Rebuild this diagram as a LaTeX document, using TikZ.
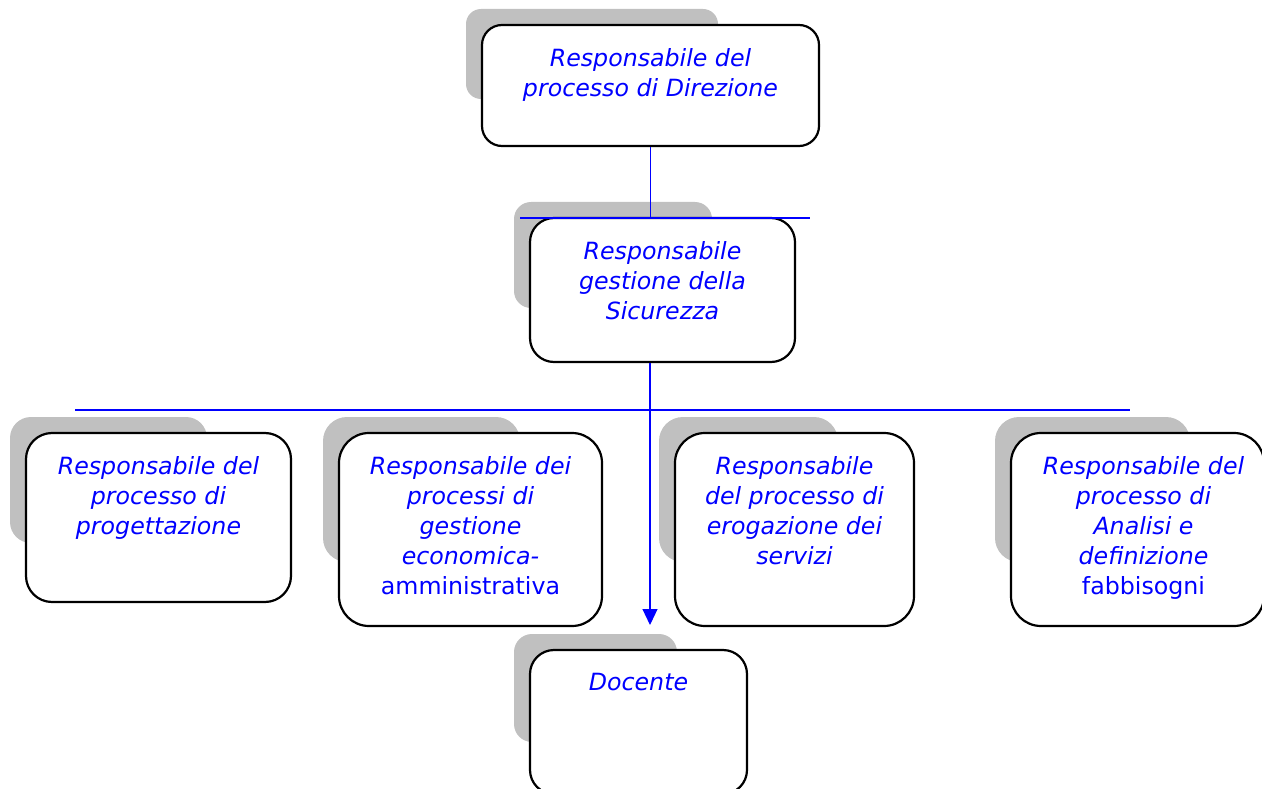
\documentclass[tikz,border=0pt]{standalone}
\usepackage{fontspec}
\setmainfont{DejaVu Sans}[ItalicFont={DejaVu Sans Oblique}]
\usepackage{tikz}
\usetikzlibrary{arrows.meta,positioning}
\definecolor{shadowgray}{RGB}{192,192,192}
\definecolor{linkblue}{RGB}{0,0,255}

\begin{document}
\begin{tikzpicture}[x=1pt,y=-1pt,
    box/.style={draw=black, line width=2.2pt, fill=white, rounded corners=#1, inner sep=0pt},
    box/.default=24pt,
    txt/.style={font=\fontsize{23.7}{30}\selectfont\itshape, text=linkblue, align=center, inner sep=0pt},
    link/.style={draw=linkblue, line width=1.2pt, dash pattern=on 1.5pt off 0.5pt}]
            \clip (0,0) rectangle (1262,789);
            % shadows
            \fill[shadowgray, rounded corners=15pt] (466,9) rectangle (718,99);
            \fill[shadowgray, rounded corners=17pt] (514,202) rectangle (712,308);
            \fill[shadowgray, rounded corners=21pt] (10,417) rectangle (207,543);
            \fill[shadowgray, rounded corners=24pt] (323,417) rectangle (520,562);
            \fill[shadowgray, rounded corners=24pt] (659,417) rectangle (838,562);
            \fill[shadowgray, rounded corners=24pt] (995,417) rectangle (1190,562);
            \fill[shadowgray, rounded corners=18pt] (514,634) rectangle (677,742);
            % boxes
            \node[box=20pt, minimum width=337pt, minimum height=121pt] (dir) at (650.5,85.5) {};
            \node[box=24pt, minimum width=265pt, minimum height=144pt] (sic) at (662.5,290) {};
            \node[box=26pt, minimum width=265pt, minimum height=169pt] (prog) at (158.5,517.5) {};
            \node[box=30pt, minimum width=263pt, minimum height=193pt] (amm) at (470.5,529.5) {};
            \node[box=30pt, minimum width=239pt, minimum height=193pt] (ero) at (794.5,529.5) {};
            \node[box=30pt, minimum width=253pt, minimum height=193pt] (fab) at (1137.5,529.5) {};
            \node[box=24pt, minimum width=217pt, minimum height=144pt] (doc) at (638.5,722) {};
            % labels
            \node[txt, below=24pt of dir.north] (dirtxt) {Responsabile del\\processo di Direzione};
            \node[txt, below=24pt of sic.north] (sictxt) {Responsabile\\gestione della\\Sicurezza};
            \node[txt, below=24pt of prog.north] (progtxt) {Responsabile del\\processo di\\progettazione};
            \node[txt, below=24pt of amm.north] (ammtxt) {Responsabile dei\\processi di\\gestione\\economica-\\{\upshape amministrativa}};
            \node[txt, below=24pt of ero.north] (erotxt) {Responsabile\\del processo di\\erogazione dei\\servizi};
            \node[txt, below=24pt of fab.north, xshift=6pt] (fabtxt) {Responsabile del\\processo di\\Analisi e\\definizione\\{\upshape fabbisogni}};
            \node[txt, below=24pt of doc.north] (doctxt) {Docente};
            % connectors
            \coordinate (ha) at (520,218);
            \coordinate (hb) at (810,218);
            \coordinate (ka) at (75,410);
            \coordinate (kb) at (1130,410);
            \coordinate (arr) at (650,625);
            \draw[link] (dir.south) -- (dir.south |- sic.north);
            \draw[link] (ha) -- (hb);
            \draw[link] (ka) -- (kb);
            \draw[link, -{Triangle[width=15pt,length=16pt]}] (arr |- sic.south) -- (arr);
\end{tikzpicture}
\end{document}
